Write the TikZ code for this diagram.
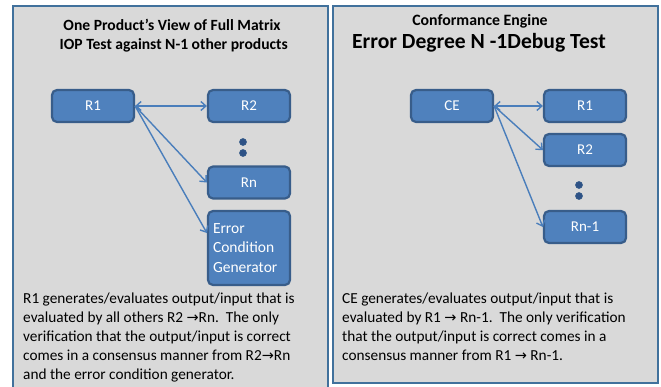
\documentclass[tikz,border=0pt]{standalone}
\usepackage{fontspec}
\setmainfont{Carlito}
\newfontfamily\arrowfont{DejaVu Sans}
\newcommand{\rarr}{{\arrowfont\fontsize{14.5}{15}\selectfont →}}
\usetikzlibrary{arrows.meta,calc}
\definecolor{panelfill}{HTML}{D9D9D9}
\definecolor{panelline}{HTML}{41719C}
\definecolor{boxfill}{HTML}{4F81BD}
\definecolor{boxline}{HTML}{385D8A}
\definecolor{linkcol}{HTML}{4A7EBB}
\definecolor{dotcol}{HTML}{2E5286}
\tikzset{
  panel/.style={draw=panelline, line width=2pt, fill=panelfill},
  unit/.style={draw=boxline, line width=2.2pt, fill=boxfill, rounded corners=5pt,
    minimum width=82pt, minimum height=32pt, inner sep=0pt,
    text=white, font=\fontsize{15}{18}\selectfont},
  link/.style={draw=linkcol, line width=1.4pt, -{Straight Barb[length=5pt,width=9pt]}},
  bilink/.style={draw=linkcol, line width=1.4pt, {Straight Barb[length=5pt,width=9pt]}-{Straight Barb[length=5pt,width=9pt]}},
  dotmark/.style={circle, fill=dotcol, draw=boxline, line width=0.6pt, minimum size=7pt, inner sep=0pt},
  body/.style={anchor=north west, align=left, inner sep=0pt, font=\fontsize{15.3}{19}\selectfont},
  heading/.style={font=\bfseries\fontsize{15.6}{19}\selectfont, align=center, inner sep=0pt}
}
\begin{document}
\begin{tikzpicture}[x=1pt,y=-1pt]
\useasboundingbox (0,0) rectangle (661,386);
\clip (0,0) rectangle (661,386);
\fill[white] (0,0) rectangle (661,386);

% two framed panels
\draw[panel] (13,6) rectangle (328,400);
\draw[panel] (333,6) rectangle (658,383);

% left panel headings
\node[heading] (ltitle) at (172,35.5) {One Product’s View of Full Matrix\\ \ IOP Test against N-1 other products};

% left panel units
\node[unit] (L1) at (93,106) {R1};
\node[unit] (L2) at (249,106) {R2};
\node[unit] (Ln) at (249,182.5) {Rn};
\node[unit, minimum height=74pt, text width=72pt, align=left, font=\fontsize{15.5}{19.5}\selectfont] (Lecg) at (249,248) {Error\\Condition\\Generator};
\node[dotmark] (ld1) at (243,142) {};
\node[dotmark] (ld2) at (243,153) {};

\draw[bilink] (L1.east) -- (L2.west);
\draw[link] (L1.east) -- (Ln.west);
\coordinate (lecgin) at ($(Lecg.west)+(0,-15)$);
\draw[link] (L1.east) -- (lecgin);

\node[body] (ltext) at (23,293) {R1 generates/evaluates output/input that is\\
evaluated by all others R2 \rarr Rn.\ \ The only\\
verification that the output/input is correct\\
comes in a consensus manner from R2\rarr Rn\\
and the error condition generator.};

% right panel headings
\node[heading, font=\bfseries\fontsize{15.8}{18}\selectfont] (rsub) at (480,21) {Conformance Engine};
\node[heading, font=\bfseries\fontsize{21.6}{25}\selectfont, anchor=west] (rtitle) at (352,43) {Error Degree N -1Debug Test};

% right panel units
\node[unit] (CE) at (452,106) {CE};
\node[unit] (R1) at (585,106) {R1};
\node[unit] (R2) at (585,150) {R2};
\node[unit] (Rm) at (585,227) {Rn-1};
\node[dotmark] (rd1) at (579,185) {};
\node[dotmark] (rd2) at (579,196) {};

\draw[bilink] (CE.east) -- (R1.west);
\draw[link] (CE.east) -- (R2.west);
\draw[link] (CE.east) -- (Rm.west);

\node[body] (rtext) at (342,293) {CE generates/evaluates output/input that is\\
evaluated by R1 \rarr\ Rn-1.\ \ The only verification\\
that the output/input is correct comes in a\\
consensus manner from R1 \rarr\ Rn-1.};
\end{tikzpicture}
\end{document}
